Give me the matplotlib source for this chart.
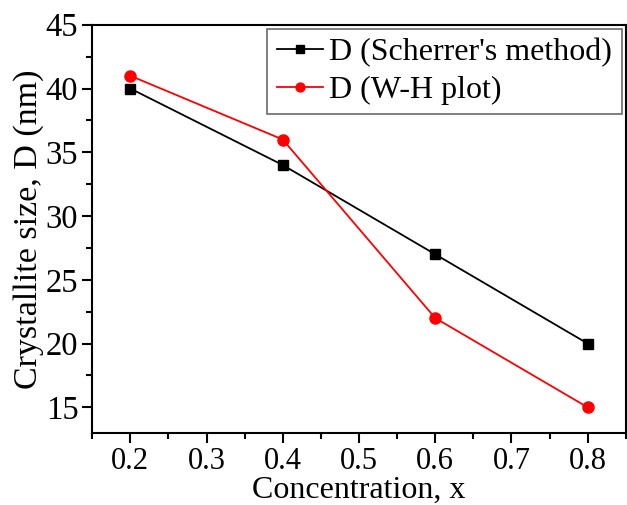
import matplotlib
matplotlib.use("Agg")
import matplotlib.pyplot as plt
from matplotlib.ticker import MultipleLocator

conc = [0.2, 0.4, 0.6, 0.8]
d_scherrer = [40, 34, 27, 20]
d_wh = [41, 36, 22, 15]

plt.rcParams["font.family"] = ["Liberation Serif", "DejaVu Serif"]

fig = plt.figure(figsize=(6.27, 5.05), dpi=100)
ax = fig.add_axes([0.147, 0.143, 0.851, 0.808])

ax.plot(conc, d_scherrer, color="black", marker="s", markersize=7, lw=1.3,
        label="D (Scherrer's method)")
ax.plot(conc, d_wh, color="red", marker="o", markersize=8, lw=1.3,
        label="D (W-H plot)")

ax.set_xlim(0.15, 0.85)
ax.set_ylim(13, 45)
ax.xaxis.set_minor_locator(MultipleLocator(0.05))
ax.yaxis.set_minor_locator(MultipleLocator(2.5))
ax.set_yticks([15, 20, 25, 30, 35, 40, 45])
ax.set_xticks([0.2, 0.3, 0.4, 0.5, 0.6, 0.7, 0.8])

ax.tick_params(which="major", direction="out", length=7, width=1.5, pad=3)
ax.tick_params(axis="x", labelsize=22)
ax.tick_params(axis="y", labelsize=23.5)
ax.tick_params(which="minor", direction="out", length=4, width=1.5)
for s in ax.spines.values():
    s.set_linewidth(1.5)

ax.set_xlabel("Concentration, x", fontsize=23, labelpad=0)
ax.set_ylabel("Crystallite size, D (nm)", fontsize=24.5, labelpad=1)

leg = ax.legend(loc="upper right", fontsize=23, frameon=True, fancybox=False,
                edgecolor="#444444", handlelength=1.45, handletextpad=0.2,
                borderpad=0.3, labelspacing=0.25, borderaxespad=0.12,
                markerscale=0.8)
leg.get_frame().set_linewidth(1.2)

fig.savefig("out.png", dpi=100)
